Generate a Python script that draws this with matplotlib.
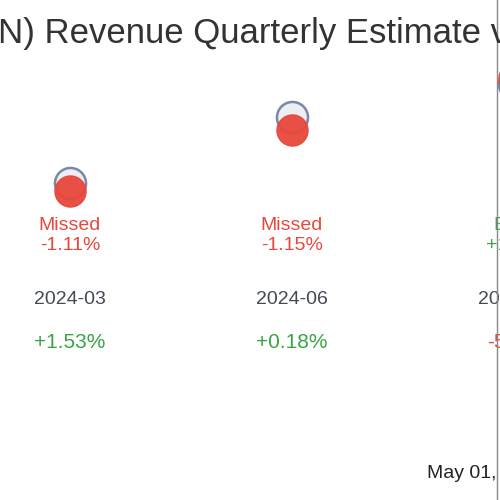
import matplotlib
matplotlib.use("Agg")
import matplotlib.pyplot as plt
import matplotlib.transforms as mtransforms

plt.rcParams['font.family'] = ['Liberation Sans', 'DejaVu Sans']

## Data ##
quarters = ['2024-03', '2024-06', '2024-09']
estimates = [100.0, 112.0, 118.0]
actuals = [98.6, 109.6, 119.0]
surprise = ['-1.11%', '-1.15%', '+1.2%']
status = ['Missed', 'Missed', 'Beat']
yoy = ['+1.53%', '+0.18%', '-5.0%']

RED = '#e8473b'
GREEN = '#3aa545'

fig = plt.figure(figsize=(5, 5), dpi=100)
ax = fig.add_axes([0, 0, 1, 1])
ax.set_xlim(-0.315, 1.937)
ax.set_ylim(42.36, 133.27)
ax.axis('off')

x = list(range(len(quarters)))
ax.scatter(x, estimates, s=500, facecolor='#eceef3', edgecolor='#7a88a8', linewidth=1.8, zorder=2)
ax.scatter(x, actuals, s=500, color=RED, alpha=0.95, zorder=3)

tr = mtransforms.blended_transform_factory(ax.transData, ax.transAxes)
for i in x:
    c = RED if status[i] == 'Missed' else GREEN
    ax.text(i, 1 - 226 / 500, status[i], transform=tr, ha='center', va='center', color=c, fontsize=14)
    ax.text(i, 1 - 245 / 500, surprise[i], transform=tr, ha='center', va='center', color=c, fontsize=14)
    ax.text(i, 1 - 300 / 500, quarters[i], transform=tr, ha='center', va='center', color='#444a55', fontsize=14)
    yc = GREEN if yoy[i].startswith('+') else RED
    ax.text(i, 1 - 343 / 500, yoy[i], transform=tr, ha='center', va='center', color=yc, fontsize=15)

fig.text(-0.004, 1 - 33 / 500, 'N) Revenue Quarterly Estimate vs Actual', ha='left', va='center',
         fontsize=25, color='#333333')
fig.text(0.854, 1 - 473 / 500, 'May 01, 2025', ha='left', va='center', fontsize=14, color='#222222')
fig.add_artist(plt.Line2D([0.994, 0.994], [0, 1], transform=fig.transFigure, color='#888888', lw=1))

fig.savefig('out.png', dpi=100)
